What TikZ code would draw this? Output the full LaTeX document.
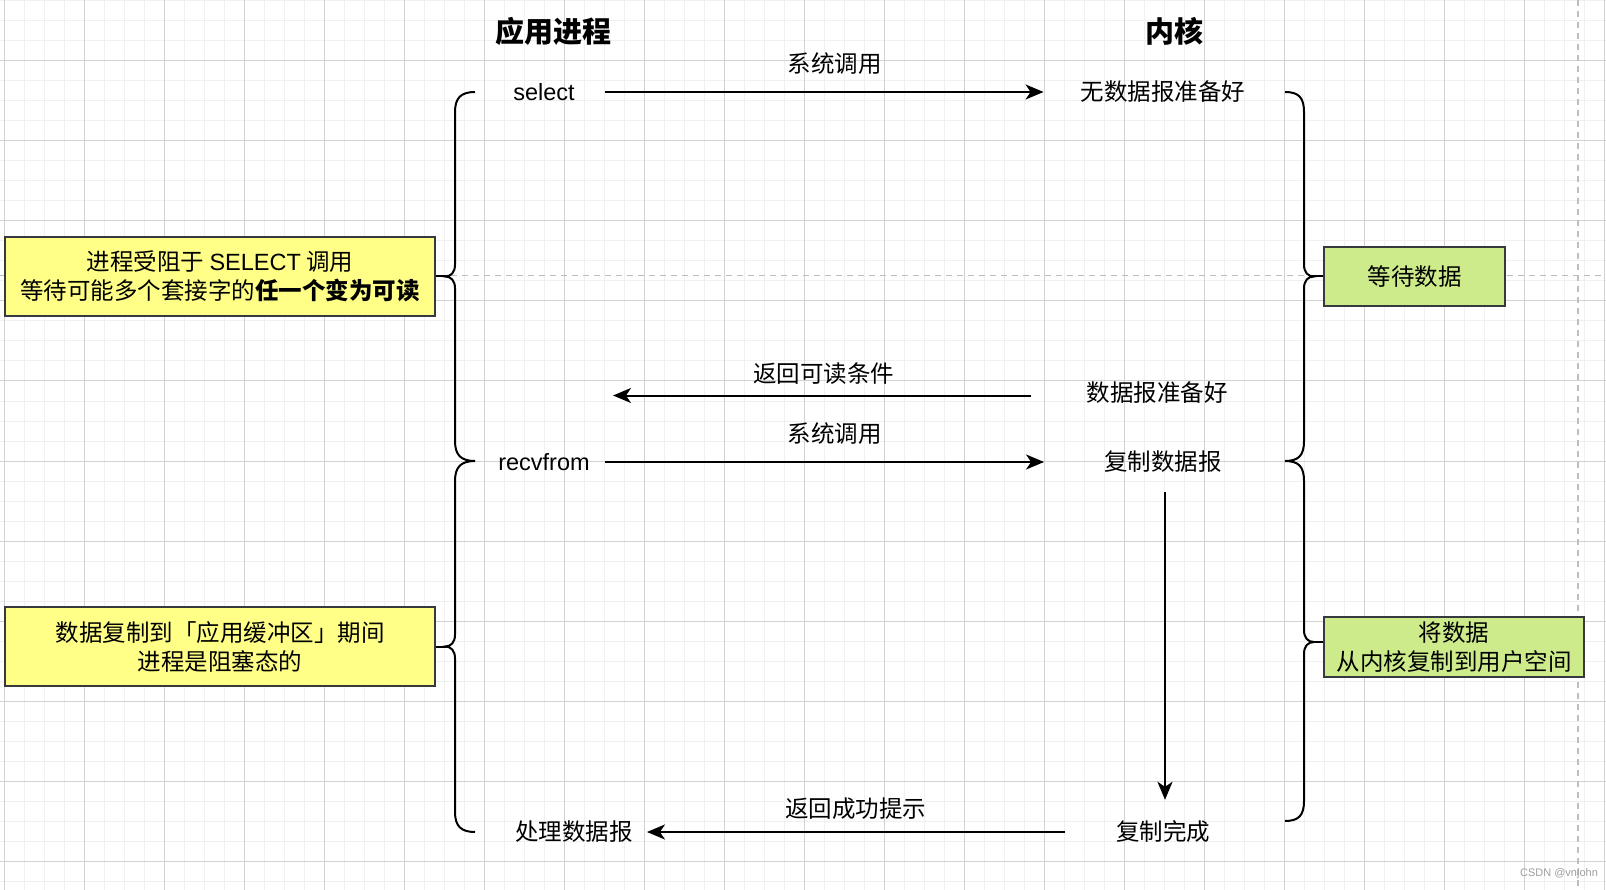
\documentclass[tikz,border=0pt]{standalone}
\usepackage{fontspec}
\setmainfont{Noto Sans CJK SC}
\newfontfamily\latinfont{Liberation Sans}
\usetikzlibrary{arrows.meta}
\definecolor{NoteYellow}{RGB}{255,255,136}
\definecolor{NoteGreen}{RGB}{205,235,139}
\definecolor{NoteBorder}{RGB}{54,57,61}
\definecolor{GridMajor}{RGB}{210,210,210}
\definecolor{GridMinor}{RGB}{240,240,240}
\definecolor{PageLine}{RGB}{190,190,190}

\begin{document}
\begin{tikzpicture}[x=1pt,y=-1pt,
  txt/.style={inner sep=0pt,font=\fontsize{23.5}{29}\selectfont},
  ttl/.style={inner sep=0pt,font=\fontsize{29}{34}\selectfont\bfseries},
  note/.style n args={3}{draw=NoteBorder,line width=2pt,fill=#1,minimum width=#2,minimum height=#3,align=center,inner sep=0pt,font=\fontsize{23.5}{29}\selectfont},
  arr/.style={line width=2pt,-{Stealth[length=18pt,width=15pt,inset=5pt]}},
  brc/.style={line width=2pt}]
\useasboundingbox (0,0) rectangle (1606,890);
\fill[white] (0,0) rectangle (1606,890);
% grid
\foreach \i in {0,...,80} {
   \draw[GridMinor,line width=1pt] ({4.3+20*\i},0) -- ({4.3+20*\i},890);
}
\foreach \i in {0,...,44} {
   \draw[GridMinor,line width=1pt] (0,{1+20*\i}) -- (1606,{1+20*\i});
}
\foreach \i in {0,...,20} {
   \draw[GridMajor,line width=1pt] ({4.3+80*\i},0) -- ({4.3+80*\i},890);
}
\foreach \i in {0,...,10} {
   \draw[GridMajor,line width=1pt] (0,{61+80*\i}) -- (1606,{61+80*\i});
}
\draw[PageLine,line width=1.3pt,dash pattern=on 6pt off 5pt] (0,275.5) -- (1606,275.5);
\draw[PageLine,line width=1.3pt,dash pattern=on 6pt off 5pt] (1578,0) -- (1578,890);

% titles and steps
\node[ttl] (app) at (553,31) {应用进程};
\node[ttl] (kern) at (1174,31) {内核};
\node[txt] (sel) at (544,92) {\latinfont select};
\node[txt] (nodata) at (1163,92) {无数据报准备好};
\node[txt] (ready) at (1157,393) {数据报准备好};
\node[txt] (recv) at (544,462) {\latinfont recvfrom};
\node[txt] (copy) at (1163,462) {复制数据报};
\node[txt] (done) at (1163,832) {复制完成};
\node[txt] (proc) at (574,832) {处理数据报};
\coordinate (back) at (613,395.5);

% notes
\node[note={NoteYellow}{430pt}{79pt}] (yel1) at (220,276.5) {进程受阻于 {\latinfont SELECT} 调用\\等待可能多个套接字的\textbf{任一个变为可读}};
\node[note={NoteYellow}{430pt}{79pt}] (yel2) at (220,646.5) {数据复制到「应用缓冲区」期间\\进程是阻塞态的};
\node[note={NoteGreen}{181pt}{59pt}] (grn1) at (1414.5,276.5) {等待数据};
\node[note={NoteGreen}{260pt}{60pt}] (grn2) at (1454,647) {将数据\\从内核复制到用户空间};

% braces
\foreach \yt/\ym/\yb/\nb in {92/276.5/461/yel1, 461/646.5/832/yel2} {
   \draw[brc] (475,\yt) .. controls (461,\yt) and (455,\yt+6) .. (455,\yt+20) -- (455,\ym-12)
      .. controls (455,\ym-4) and (451,\ym) .. (445,\ym)
      .. controls (451,\ym) and (455,\ym+4) .. (455,\ym+12) -- (455,\yb-20)
      .. controls (455,\yb-6) and (461,\yb) .. (475,\yb);
   \draw[brc] (446,\ym) -- (\nb.east);
}
\foreach \yt/\ym/\yb/\nb in {92/276.5/461/grn1, 461/642/821/grn2} {
   \draw[brc] (1285,\yt) .. controls (1299,\yt) and (1304,\yt+6) .. (1304,\yt+20) -- (1304,\ym-12)
      .. controls (1304,\ym-4) and (1308,\ym) .. (1314,\ym)
      .. controls (1308,\ym) and (1304,\ym+4) .. (1304,\ym+12) -- (1304,\yb-20)
      .. controls (1304,\yb-6) and (1299,\yb) .. (1285,\yb);
   \draw[brc] (1313,\ym) -- (\nb.west|-0,\ym);
}

% calls
\draw[arr,shorten <=30pt,shorten >=37pt] (sel) -- node[txt,pos=0.514,above=16pt] (call1) {系统调用} (nodata);
\draw[arr,shorten <=55pt] (ready.west|-back) -- node[txt,pos=0.555,above=10pt] (ret1) {返回可读条件} (back);
\draw[arr,shorten <=15pt,shorten >=60pt] (recv) -- node[txt,pos=0.476,above=17pt] (call2) {系统调用} (copy);
\draw[arr,shorten <=19pt,shorten >=21pt] ([xshift=2pt]copy.south) -- ([xshift=2pt]done.north);
\draw[arr,shorten <=51pt,shorten >=14pt] (done) -- node[txt,pos=0.539,above=11pt] (ret2) {返回成功提示} (proc);

\node[inner sep=0pt,text=black!38,font=\latinfont\fontsize{11}{13}\selectfont] (mark) at (1559,874) {CSDN @vnjohn};
\end{tikzpicture}
\end{document}
